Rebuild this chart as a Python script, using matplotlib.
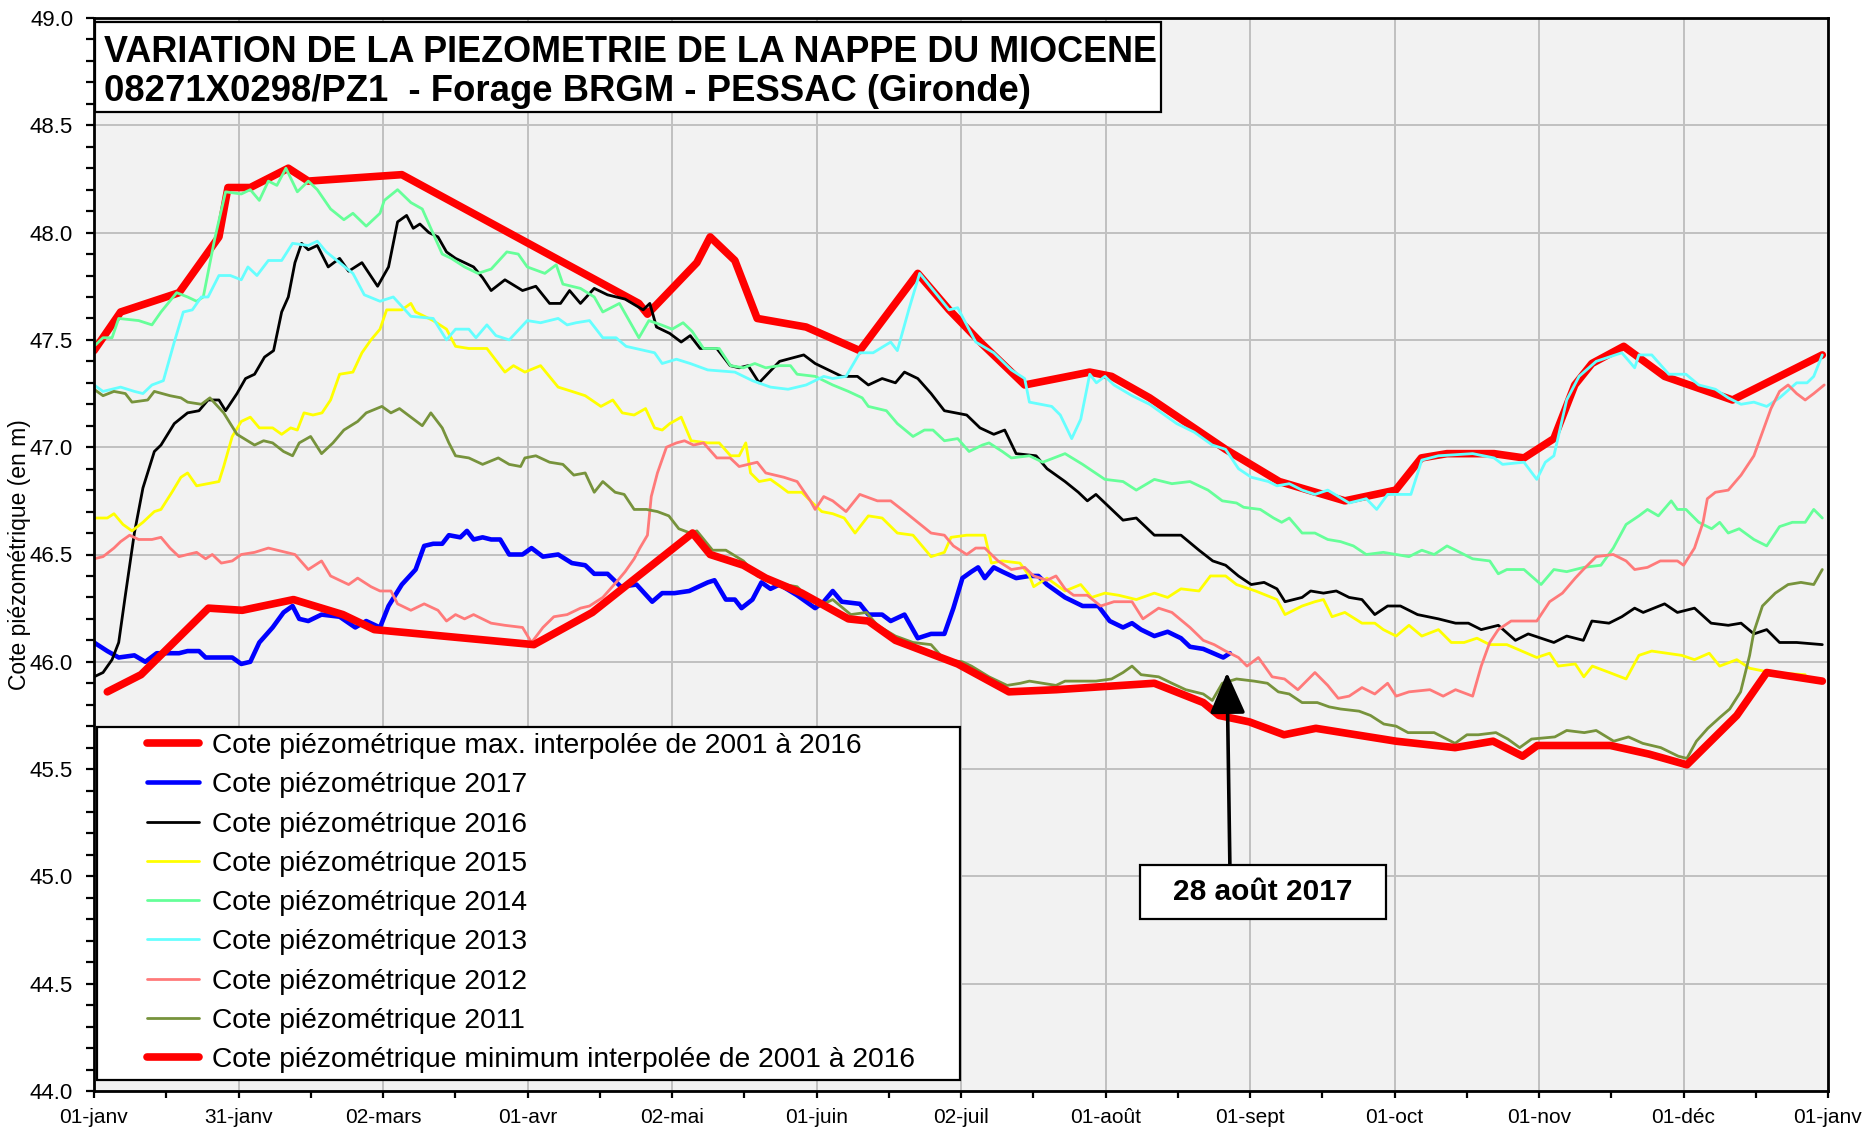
import numpy as np
import matplotlib
matplotlib.use("Agg")
import matplotlib.pyplot as plt
from matplotlib.patches import Rectangle
from matplotlib.ticker import MultipleLocator, FixedLocator

plt.rcParams['font.family'] = ['Liberation Sans', 'DejaVu Sans']

# ---------------- data (day of year, level in m) ----------------
max_days = [0, 5.6, 17.9, 26.3, 28.2, 32.9, 40.9, 45.1, 64.8, 114.7, 116.5, 126.9, 129.7, 134.9, 139.6,
            149.9, 161.2, 173.4, 180.0, 187.0, 195.9, 209.6, 214.2, 222.2, 238.2, 249.5, 263.3, 274.0,
            279.4, 284.8, 294.7, 301.0, 307.3, 311.7, 315.3, 322.0, 330.6, 344.9, 363.8]
max_vals = [47.45, 47.63, 47.72, 47.98, 48.21, 48.21, 48.30, 48.24, 48.27, 47.67, 47.62, 47.86, 47.98, 47.87,
            47.60, 47.56, 47.45, 47.81, 47.64, 47.48, 47.29, 47.35, 47.33, 47.23, 46.99, 46.84, 46.75, 46.80,
            46.95, 46.97, 46.97, 46.95, 47.04, 47.29, 47.39, 47.47, 47.33, 47.22, 47.43]

min_days = [2.8, 9.9, 24.1, 31.2, 42.0, 52.4, 59.0, 92.6, 104.9, 126.0, 129.7, 136.7, 141.4, 149.0, 158.8,
            163.0, 168.7, 181.8, 192.6, 202.5, 223.2, 233.5, 236.8, 243.2, 250.5, 257.2, 274.1, 286.5,
            294.5, 300.7, 303.8, 319.2, 327.3, 335.3, 345.8, 352.1, 363.8]
min_vals = [45.86, 45.94, 46.25, 46.24, 46.29, 46.22, 46.15, 46.08, 46.23, 46.60, 46.50, 46.45, 46.39, 46.32,
            46.20, 46.19, 46.10, 45.99, 45.86, 45.87, 45.90, 45.81, 45.75, 45.72, 45.66, 45.69, 45.63, 45.60,
            45.63, 45.56, 45.61, 45.61, 45.57, 45.52, 45.75, 45.95, 45.91]

y2017_days = [0, 2.8, 5.2, 8.5, 10.8, 13.2, 17.9, 19.7, 22.1, 23.5, 29.1, 31.0, 32.9, 34.8, 37.6, 39.9, 41.8,
              43.2, 45.1, 47.9, 51.7, 55.0, 57.3, 60.2, 62.0, 64.8, 67.7, 69.5, 71.4, 73.3, 74.7, 77.1, 78.5,
              79.9, 81.8, 83.6, 85.5, 87.4, 90.2, 92.1, 94.5, 97.7, 100.6, 103.4, 105.3, 108.1, 110.9, 114.2,
              117.5, 119.6, 122.2, 125.3, 129.2, 130.6, 133.0, 134.9, 136.3, 138.6, 140.5, 142.4, 144.3, 148.0,
              151.8, 153.6, 155.5, 157.4, 161.2, 163.0, 165.9, 167.7, 170.6, 173.4, 176.2, 179.0, 180.9, 182.8,
              184.7, 186.1, 187.5, 189.4, 191.2, 194.1, 196.9, 198.8, 200.6, 204.4, 208.1, 211.4, 213.8, 216.6,
              218.5, 220.4, 223.2, 226.0, 228.8, 230.7, 233.5, 237.7, 239.1]
y2017_vals = [46.09, 46.05, 46.02, 46.03, 46.00, 46.04, 46.04, 46.05, 46.05, 46.02, 46.02, 45.99, 46.00, 46.09,
              46.16, 46.23, 46.26, 46.20, 46.19, 46.22, 46.21, 46.16, 46.19, 46.16, 46.26, 46.36, 46.43, 46.54,
              46.55, 46.55, 46.59, 46.58, 46.61, 46.57, 46.58, 46.57, 46.57, 46.50, 46.50, 46.53, 46.49, 46.50,
              46.46, 46.45, 46.41, 46.41, 46.35, 46.36, 46.28, 46.32, 46.32, 46.33, 46.37, 46.38, 46.29, 46.29,
              46.25, 46.29, 46.37, 46.34, 46.36, 46.31, 46.25, 46.28, 46.33, 46.28, 46.27, 46.22, 46.22, 46.19,
              46.22, 46.11, 46.13, 46.13, 46.25, 46.39, 46.42, 46.44, 46.39, 46.44, 46.42, 46.39, 46.40, 46.40,
              46.36, 46.30, 46.26, 46.26, 46.19, 46.16, 46.18, 46.15, 46.12, 46.14, 46.11, 46.07, 46.06, 46.02,
              46.04]

y2016_days = [0, 1.9, 3.8, 5.2, 6.6, 8.5, 10.3, 12.7, 14.1, 16.9, 19.7, 22.1, 24.0, 26.3, 27.7, 30.1, 31.9,
              33.8, 35.9, 37.8, 39.5, 40.9, 42.3, 43.7, 45.1, 47.0, 49.3, 51.7, 53.6, 56.4, 59.7, 62.0, 63.9,
              65.8, 67.2, 68.6, 70.5, 72.4, 74.2, 76.1, 79.9, 81.8, 83.6, 86.5, 90.2, 93.0, 95.9, 98.2, 100.1,
              102.4, 105.3, 108.1, 111.8, 115.6, 117.0, 118.4, 121.2, 123.6, 125.5, 127.6, 131.1, 133.9, 135.8,
              137.7, 140.0, 144.3, 149.4, 151.8, 157.4, 160.7, 163.0, 165.9, 168.7, 170.6, 173.4, 176.2, 179.0,
              183.7, 186.5, 189.4, 191.7, 194.1, 198.3, 200.6, 204.4, 207.2, 209.1, 210.9, 214.7, 216.6, 219.4,
              223.2, 228.8, 232.6, 235.5, 238.2, 240.9, 243.6, 246.3, 249.0, 250.7, 254.3, 256.1, 258.8, 261.5,
              264.2, 266.9, 269.6, 272.3, 275.0, 278.6, 283.0, 286.6, 289.3, 292.0, 295.6, 299.2, 301.9, 307.3,
              310.0, 313.5, 315.3, 318.9, 321.6, 324.3, 326.1, 330.6, 333.3, 336.9, 340.4, 344.0, 346.7, 349.4,
              352.1, 354.8, 358.4, 363.8]
y2016_vals = [45.93, 45.95, 46.01, 46.09, 46.31, 46.60, 46.81, 46.98, 47.01, 47.11, 47.16, 47.17, 47.22, 47.22,
              47.17, 47.25, 47.32, 47.34, 47.42, 47.45, 47.63, 47.70, 47.86, 47.95, 47.92, 47.94, 47.84, 47.88,
              47.82, 47.86, 47.75, 47.84, 48.05, 48.08, 48.02, 48.04, 48.00, 47.98, 47.91, 47.88, 47.84, 47.79,
              47.73, 47.78, 47.73, 47.75, 47.67, 47.67, 47.73, 47.67, 47.74, 47.71, 47.69, 47.64, 47.67, 47.56,
              47.53, 47.49, 47.52, 47.46, 47.46, 47.38, 47.37, 47.38, 47.30, 47.40, 47.43, 47.39, 47.33, 47.33,
              47.29, 47.32, 47.30, 47.35, 47.32, 47.25, 47.17, 47.15, 47.09, 47.06, 47.08, 46.97, 46.96, 46.90,
              46.84, 46.79, 46.75, 46.78, 46.70, 46.66, 46.67, 46.59, 46.59, 46.52, 46.47, 46.45, 46.40, 46.36,
              46.37, 46.34, 46.28, 46.30, 46.33, 46.32, 46.33, 46.30, 46.29, 46.22, 46.26, 46.26, 46.22, 46.20,
              46.18, 46.18, 46.15, 46.17, 46.10, 46.13, 46.09, 46.12, 46.10, 46.19, 46.18, 46.21, 46.25, 46.23,
              46.27, 46.23, 46.25, 46.18, 46.17, 46.18, 46.13, 46.15, 46.09, 46.09, 46.08]

y2015_days = [0, 2.8, 4.2, 6.1, 8.0, 10.3, 12.7, 14.1, 16.4, 18.3, 19.7, 21.6, 24.0, 26.3, 27.3, 29.1, 31.0,
              32.9, 34.8, 37.6, 39.5, 41.4, 42.8, 44.2, 46.1, 48.0, 49.8, 51.7, 54.5, 56.4, 58.3, 60.2, 61.6,
              64.8, 66.7, 67.7, 71.4, 74.2, 76.1, 78.9, 82.7, 86.5, 88.3, 90.7, 94.0, 97.7, 100.6, 103.4, 106.7,
              109.2, 111.2, 113.7, 116.1, 118.0, 119.6, 121.2, 123.6, 125.7, 129.2, 131.6, 134.0, 135.8, 137.2,
              138.2, 140.0, 142.4, 144.3, 146.1, 149.0, 150.8, 153.2, 155.5, 157.9, 160.2, 163.0, 165.9, 169.1,
              172.4, 176.2, 179.0, 180.4, 183.7, 187.5, 188.9, 191.2, 194.9, 196.9, 197.8, 200.6, 204.4, 207.7,
              210.0, 212.8, 215.7, 219.4, 223.2, 226.0, 228.8, 232.6, 235.0, 238.2, 240.5, 244.5, 249.0, 250.7,
              254.3, 257.0, 258.8, 260.6, 263.3, 266.9, 269.6, 271.4, 274.1, 276.8, 279.5, 283.0, 285.7, 288.4,
              291.1, 293.8, 297.4, 303.7, 306.4, 308.2, 311.8, 313.6, 315.4, 319.0, 322.5, 325.2, 327.9, 334.2,
              336.9, 340.0, 342.2, 345.8, 348.5, 353.0, 360.2]
y2015_vals = [46.67, 46.67, 46.69, 46.64, 46.61, 46.65, 46.70, 46.71, 46.79, 46.86, 46.88, 46.82, 46.83, 46.84,
              46.91, 47.05, 47.12, 47.14, 47.09, 47.09, 47.06, 47.09, 47.08, 47.16, 47.15, 47.16, 47.22, 47.34,
              47.35, 47.44, 47.50, 47.55, 47.64, 47.64, 47.67, 47.63, 47.59, 47.55, 47.47, 47.46, 47.46, 47.35,
              47.38, 47.35, 47.38, 47.28, 47.26, 47.24, 47.19, 47.22, 47.16, 47.15, 47.18, 47.09, 47.08, 47.11,
              47.14, 47.03, 47.02, 47.02, 46.96, 46.96, 47.02, 46.88, 46.84, 46.85, 46.82, 46.79, 46.79, 46.75,
              46.70, 46.69, 46.67, 46.60, 46.68, 46.67, 46.60, 46.59, 46.49, 46.51, 46.58, 46.59, 46.59, 46.46,
              46.47, 46.46, 46.40, 46.35, 46.39, 46.33, 46.36, 46.30, 46.32, 46.31, 46.29, 46.32, 46.30, 46.34,
              46.33, 46.40, 46.40, 46.36, 46.33, 46.29, 46.22, 46.26, 46.28, 46.29, 46.21, 46.23, 46.18, 46.18,
              46.15, 46.12, 46.17, 46.12, 46.15, 46.09, 46.09, 46.11, 46.08, 46.08, 46.02, 46.04, 45.98, 45.99,
              45.93, 45.98, 45.95, 45.92, 46.03, 46.05, 46.03, 46.01, 46.04, 45.98, 46.01, 45.97, 45.95, 45.94]

y2014_days = [0, 1.9, 3.8, 5.2, 9.4, 12.2, 14.1, 17.4, 19.7, 21.6, 23.0, 25.4, 27.7, 31.0, 32.9, 34.8, 36.7,
              38.5, 40.4, 42.8, 45.1, 47.0, 49.8, 52.6, 54.5, 57.3, 60.2, 61.1, 63.9, 66.7, 69.1, 73.3, 75.2,
              78.0, 80.8, 83.6, 86.9, 89.3, 91.2, 94.9, 97.3, 98.7, 102.4, 105.3, 107.1, 110.6, 114.7, 116.8,
              119.4, 121.7, 124.0, 125.9, 128.3, 131.6, 134.0, 136.7, 139.1, 141.4, 144.3, 146.6, 148.0, 151.8,
              155.5, 158.8, 161.7, 163.0, 166.8, 169.1, 172.4, 174.8, 176.6, 179.0, 181.8, 184.2, 187.0, 188.4,
              191.2, 193.1, 196.9, 199.7, 204.4, 208.1, 212.8, 216.6, 219.4, 223.2, 226.9, 230.7, 234.5, 237.5,
              240.5, 242.0, 245.5, 248.3, 250.0, 251.6, 254.3, 257.0, 259.7, 262.4, 265.1, 267.8, 271.4, 274.1,
              276.8, 279.5, 282.1, 284.8, 287.5, 290.2, 293.8, 295.6, 297.4, 301.0, 304.6, 307.3, 310.0, 313.6,
              317.2, 319.8, 322.5, 325.2, 327.0, 329.3, 332.0, 333.3, 335.1, 337.8, 340.5, 342.2, 344.0, 346.3,
              349.4, 352.1, 354.8, 357.5, 360.2, 362.0, 363.8]
y2014_vals = [47.47, 47.51, 47.51, 47.60, 47.59, 47.57, 47.63, 47.72, 47.70, 47.68, 47.70, 47.97, 48.19, 48.18,
              48.20, 48.15, 48.24, 48.22, 48.30, 48.19, 48.24, 48.20, 48.11, 48.06, 48.09, 48.03, 48.09, 48.15,
              48.20, 48.14, 48.11, 47.90, 47.88, 47.84, 47.81, 47.83, 47.91, 47.90, 47.84, 47.81, 47.85, 47.76,
              47.74, 47.70, 47.63, 47.67, 47.51, 47.59, 47.57, 47.55, 47.58, 47.54, 47.46, 47.46, 47.38, 47.37,
              47.39, 47.37, 47.38, 47.38, 47.34, 47.33, 47.29, 47.26, 47.23, 47.19, 47.17, 47.11, 47.05, 47.08,
              47.08, 47.03, 47.04, 46.98, 47.01, 47.02, 46.98, 46.95, 46.96, 46.93, 46.97, 46.92, 46.85, 46.84,
              46.80, 46.85, 46.83, 46.84, 46.80, 46.75, 46.74, 46.72, 46.71, 46.67, 46.65, 46.67, 46.60, 46.60,
              46.57, 46.56, 46.54, 46.50, 46.51, 46.50, 46.49, 46.52, 46.50, 46.54, 46.51, 46.48, 46.47, 46.41,
              46.43, 46.43, 46.36, 46.43, 46.42, 46.44, 46.45, 46.53, 46.64, 46.68, 46.71, 46.68, 46.75, 46.71,
              46.71, 46.65, 46.62, 46.65, 46.60, 46.62, 46.57, 46.54, 46.63, 46.65, 46.65, 46.71, 46.67]

y2013_days = [0, 1.9, 5.6, 8.5, 10.3, 12.2, 14.6, 16.9, 18.8, 20.7, 22.6, 24.0, 26.3, 28.7, 31.0, 32.4, 34.3,
              36.7, 39.5, 41.8, 45.1, 47.0, 48.9, 51.7, 54.5, 56.9, 60.2, 63.0, 66.7, 71.4, 74.2, 76.1, 78.9,
              80.4, 82.7, 84.6, 87.4, 91.2, 94.0, 97.7, 99.6, 101.5, 104.3, 107.1, 109.9, 112.0, 116.0, 118.0,
              119.6, 122.6, 125.5, 129.2, 134.9, 138.6, 142.4, 146.1, 149.9, 153.6, 155.5, 158.3, 161.2, 164.0,
              167.7, 169.1, 171.5, 173.8, 180.0, 181.8, 185.6, 189.4, 193.1, 195.9, 196.9, 201.6, 203.4, 205.8,
              207.7, 209.6, 211.0, 212.8, 214.7, 218.5, 222.2, 227.9, 231.6, 235.4, 238.2, 240.9, 243.6, 247.2,
              249.0, 251.6, 254.3, 257.0, 259.7, 264.2, 267.8, 270.0, 272.3, 277.2, 279.5, 283.0, 290.2, 294.7,
              296.5, 301.0, 303.7, 305.5, 307.3, 310.0, 312.6, 316.2, 321.6, 324.3, 325.2, 327.9, 331.5, 335.1,
              337.8, 341.3, 344.0, 346.7, 349.4, 352.1, 354.8, 358.4, 360.6, 362.0, 363.8]
y2013_vals = [47.29, 47.26, 47.28, 47.26, 47.25, 47.29, 47.31, 47.49, 47.63, 47.64, 47.70, 47.70, 47.80, 47.80,
              47.78, 47.84, 47.80, 47.87, 47.87, 47.95, 47.94, 47.96, 47.91, 47.86, 47.81, 47.71, 47.68, 47.70,
              47.61, 47.60, 47.50, 47.55, 47.55, 47.51, 47.57, 47.52, 47.50, 47.59, 47.58, 47.60, 47.57, 47.58,
              47.59, 47.51, 47.51, 47.47, 47.45, 47.44, 47.39, 47.41, 47.39, 47.36, 47.35, 47.31, 47.28, 47.27,
              47.29, 47.33, 47.32, 47.33, 47.44, 47.44, 47.49, 47.45, 47.64, 47.81, 47.64, 47.65, 47.49, 47.44,
              47.36, 47.32, 47.21, 47.19, 47.15, 47.04, 47.13, 47.34, 47.30, 47.33, 47.29, 47.24, 47.20, 47.11,
              47.07, 47.01, 46.99, 46.90, 46.86, 46.84, 46.82, 46.83, 46.80, 46.78, 46.80, 46.74, 46.76, 46.71,
              46.78, 46.78, 46.94, 46.96, 46.97, 46.95, 46.92, 46.93, 46.85, 46.93, 46.96, 47.22, 47.33, 47.40,
              47.44, 47.37, 47.43, 47.43, 47.34, 47.34, 47.29, 47.27, 47.23, 47.20, 47.21, 47.19, 47.23, 47.30,
              47.30, 47.33, 47.43]

y2012_days = [0, 1.9, 4.2, 5.6, 7.5, 9.4, 12.2, 14.1, 16.0, 17.9, 19.7, 21.6, 23.5, 24.9, 26.8, 29.1, 31.0,
              33.8, 36.7, 40.4, 42.3, 45.1, 47.9, 49.8, 51.7, 53.6, 55.5, 58.3, 60.2, 62.5, 63.9, 66.7, 69.5,
              72.4, 74.2, 76.1, 78.0, 79.9, 83.6, 86.5, 90.2, 92.1, 94.5, 96.8, 99.6, 102.4, 104.3, 107.1, 109.9,
              111.8, 113.7, 114.9, 116.5, 117.3, 118.6, 120.5, 122.6, 124.3, 126.2, 128.3, 131.1, 133.9, 135.8,
              139.6, 141.4, 145.2, 148.0, 150.8, 151.8, 153.6, 155.5, 158.3, 161.2, 164.9, 167.7, 170.6, 173.4,
              176.2, 179.0, 180.9, 183.7, 185.6, 187.5, 190.3, 193.1, 195.9, 197.8, 200.6, 202.5, 204.4, 206.2,
              209.1, 211.9, 214.7, 218.5, 220.8, 224.1, 226.9, 230.7, 233.5, 235.8, 238.2, 240.9, 242.7, 245.1,
              248.0, 250.6, 253.4, 257.0, 259.7, 261.9, 264.2, 266.9, 269.6, 272.3, 274.1, 276.8, 281.2, 284.0,
              286.6, 290.2, 292.0, 293.8, 295.6, 298.3, 301.0, 303.7, 306.4, 309.1, 311.8, 313.5, 316.2, 319.8,
              322.5, 324.3, 327.0, 329.7, 333.3, 334.6, 336.9, 338.7, 339.6, 341.3, 344.0, 346.7, 349.4, 351.2,
              353.0, 354.8, 356.6, 358.4, 360.2, 362.0, 364.2]
y2012_vals = [46.48, 46.49, 46.53, 46.56, 46.59, 46.57, 46.57, 46.58, 46.53, 46.49, 46.50, 46.51, 46.48, 46.50,
              46.46, 46.47, 46.50, 46.51, 46.53, 46.51, 46.50, 46.43, 46.47, 46.40, 46.38, 46.36, 46.39, 46.35,
              46.33, 46.33, 46.27, 46.24, 46.27, 46.24, 46.19, 46.22, 46.20, 46.22, 46.18, 46.17, 46.16, 46.09,
              46.16, 46.21, 46.22, 46.25, 46.26, 46.30, 46.37, 46.42, 46.48, 46.53, 46.59, 46.77, 46.88, 47.00,
              47.02, 47.03, 47.01, 47.02, 46.95, 46.95, 46.91, 46.93, 46.88, 46.86, 46.84, 46.75, 46.71, 46.77,
              46.75, 46.70, 46.78, 46.75, 46.75, 46.70, 46.65, 46.60, 46.59, 46.54, 46.50, 46.53, 46.53, 46.47,
              46.43, 46.44, 46.40, 46.38, 46.40, 46.34, 46.31, 46.31, 46.26, 46.28, 46.28, 46.20, 46.25, 46.23,
              46.16, 46.10, 46.08, 46.05, 46.02, 45.98, 46.02, 45.93, 45.92, 45.87, 45.95, 45.89, 45.83, 45.84,
              45.88, 45.85, 45.90, 45.84, 45.86, 45.87, 45.84, 45.87, 45.84, 45.98, 46.09, 46.15, 46.19, 46.19,
              46.19, 46.28, 46.32, 46.39, 46.43, 46.49, 46.50, 46.47, 46.43, 46.44, 46.47, 46.47, 46.45, 46.53,
              46.65, 46.76, 46.79, 46.80, 46.87, 46.96, 47.07, 47.18, 47.26, 47.29, 47.25, 47.22, 47.25, 47.29]

y2011_days = [0, 1.9, 4.2, 6.6, 8.0, 11.3, 12.7, 16.0, 18.3, 19.7, 22.6, 24.4, 27.3, 30.1, 33.8, 35.7, 37.6,
              39.9, 41.8, 43.2, 45.6, 47.9, 50.3, 52.6, 55.5, 57.3, 60.6, 62.5, 64.3, 66.7, 69.1, 70.9, 73.3,
              74.7, 76.1, 78.9, 81.8, 85.1, 87.4, 89.8, 90.7, 93.0, 95.9, 98.7, 101.0, 103.4, 105.3, 107.1, 109.7,
              111.6, 113.7, 116.3, 118.6, 121.0, 123.1, 125.5, 126.9, 130.2, 133.0, 136.7, 139.6, 143.3, 145.2,
              148.0, 149.9, 152.7, 155.5, 159.3, 162.6, 164.9, 168.7, 172.4, 176.2, 179.0, 182.8, 184.7, 188.4,
              192.2, 195.0, 196.9, 199.7, 202.5, 204.4, 206.2, 210.9, 214.2, 216.6, 218.5, 220.4, 224.1, 226.9,
              229.8, 233.5, 235.4, 237.5, 240.5, 244.2, 247.0, 249.3, 251.6, 254.3, 257.5, 260.0, 262.4, 266.3,
              268.7, 271.5, 274.1, 276.6, 280.3, 282.1, 286.5, 289.0, 291.4, 295.1, 297.6, 300.1, 302.6, 307.5,
              310.0, 313.7, 316.2, 319.9, 323.0, 326.0, 329.8, 333.5, 335.3, 337.3, 339.7, 342.2, 344.3, 346.6,
              348.5, 349.4, 351.2, 353.9, 356.6, 359.3, 362.0, 363.8]
y2011_vals = [47.27, 47.24, 47.26, 47.25, 47.21, 47.22, 47.26, 47.24, 47.23, 47.21, 47.20, 47.23, 47.16, 47.06,
              47.01, 47.03, 47.02, 46.98, 46.96, 47.02, 47.05, 46.97, 47.02, 47.08, 47.12, 47.16, 47.19, 47.16,
              47.18, 47.14, 47.10, 47.16, 47.09, 47.02, 46.96, 46.95, 46.92, 46.95, 46.92, 46.91, 46.95, 46.96,
              46.93, 46.92, 46.87, 46.88, 46.79, 46.84, 46.79, 46.78, 46.71, 46.71, 46.70, 46.68, 46.62, 46.60,
              46.61, 46.52, 46.52, 46.47, 46.40, 46.37, 46.36, 46.35, 46.31, 46.26, 46.29, 46.22, 46.23, 46.17,
              46.12, 46.09, 46.08, 46.01, 46.00, 45.98, 45.93, 45.89, 45.90, 45.91, 45.90, 45.89, 45.91, 45.91,
              45.91, 45.92, 45.95, 45.98, 45.94, 45.93, 45.90, 45.87, 45.85, 45.82, 45.90, 45.92, 45.91, 45.90,
              45.86, 45.85, 45.81, 45.81, 45.79, 45.78, 45.77, 45.75, 45.71, 45.70, 45.67, 45.67, 45.67, 45.62,
              45.66, 45.66, 45.67, 45.64, 45.60, 45.64, 45.65, 45.68, 45.67, 45.68, 45.63, 45.65, 45.62, 45.60,
              45.56, 45.55, 45.63, 45.69, 45.74, 45.78, 45.86, 46.03, 46.14, 46.26, 46.32, 46.36, 46.37, 46.36,
              46.43]

xtick_labels = ['01-janv', '31-janv', '02-mars', '01-avr', '02-mai', '01-juin', '02-juil',
                '01-août', '01-sept', '01-oct', '01-nov', '01-déc', '01-janv']

labels = ['Cote piézométrique max. interpolée de 2001 à 2016',
          'Cote piézométrique 2017',
          'Cote piézométrique 2016',
          'Cote piézométrique 2015',
          'Cote piézométrique 2014',
          'Cote piézométrique 2013',
          'Cote piézométrique 2012',
          'Cote piézométrique 2011',
          'Cote piézométrique minimum interpolée de 2001 à 2016']

series = [(max_days, max_vals), (y2017_days, y2017_vals), (y2016_days, y2016_vals),
          (y2015_days, y2015_vals), (y2014_days, y2014_vals), (y2013_days, y2013_vals),
          (y2012_days, y2012_vals), (y2011_days, y2011_vals), (min_days, min_vals)]
colors = ['#FF0000', '#0000FF', '#000000', '#FFFF00', '#66FF99', '#66FFFF', '#FF7A7A', '#77933C', '#FF0000']
widths = [5.5, 3.3, 2.0, 2.0, 2.0, 2.0, 2.0, 2.0, 5.5]

# ---------------- figure ----------------
fig = plt.figure(figsize=(18.70, 11.31), dpi=100)
ax = fig.add_axes([94 / 1870, 40 / 1131, 1734 / 1870, 1073 / 1131])
ax.set_facecolor('#F2F2F2')

handles = []
for i, ((d, v), c, w, lab) in enumerate(zip(series, colors, widths, labels)):
    ln, = ax.plot(d, v, color=c, lw=w, label=lab, zorder=3 + i,
                  solid_joinstyle='round', solid_capstyle='round')
    handles.append(ln)

ax.set_xlim(0, 365)
ax.set_ylim(44.0, 49.0)
ax.xaxis.set_major_locator(FixedLocator(np.linspace(0, 365, 13)))
ax.xaxis.set_minor_locator(FixedLocator(np.linspace(0, 365, 25)))
ax.set_xticklabels(xtick_labels)
ax.yaxis.set_major_locator(MultipleLocator(0.5))
ax.yaxis.set_minor_locator(MultipleLocator(0.1))
ax.yaxis.set_major_formatter(matplotlib.ticker.FormatStrFormatter('%.1f'))

ax.grid(True, which='major', color='#C0C0C0', lw=1.4, zorder=0)
ax.set_axisbelow(True)
for s in ax.spines.values():
    s.set_color('black')
    s.set_linewidth(2.0)
    s.set_zorder(20)

ax.tick_params(axis='x', which='both', direction='out', length=5, width=1.6, labelsize=15, pad=7)
ax.tick_params(axis='y', which='both', direction='out', length=6, width=1.6, labelsize=16, pad=9)

ax.set_ylabel('Cote piézométrique (en m)', fontsize=16.5, va='center')
ax.yaxis.set_label_coords((20 - 94) / 1734, 0.5)

# ---------------- title box ----------------
def fx(px):
    return (px - 94) / 1734

def fy(py):
    return 1 - (py - 18) / 1073

ax.add_patch(Rectangle((fx(95), fy(112)), fx(1161) - fx(95), fy(22) - fy(112),
                       transform=ax.transAxes, facecolor='white', edgecolor='black', lw=1.6, zorder=30))
ax.text(fx(104), fy(62), 'VARIATION DE LA PIEZOMETRIE DE LA NAPPE DU MIOCENE', transform=ax.transAxes,
        fontsize=25.9, fontweight='bold', ha='left', va='baseline', zorder=31)
ax.text(fx(104), fy(101), '08271X0298/PZ1  - Forage BRGM - PESSAC (Gironde)', transform=ax.transAxes,
        fontsize=26.3, fontweight='bold', ha='left', va='baseline', zorder=31)

# ---------------- legend ----------------
ax.add_patch(Rectangle((fx(97), fy(1080)), fx(960) - fx(97), fy(727) - fy(1080),
                       transform=ax.transAxes, facecolor='white', edgecolor='black', lw=1.6, zorder=30))
leg = ax.legend(handles=handles, loc='upper left', bbox_to_anchor=(fx(147), fy(733)),
                frameon=False, fontsize=20.3, borderpad=0, borderaxespad=0,
                handlelength=1.85, handletextpad=0.45, labelspacing=0.47)
leg.set_zorder(31)

# ---------------- annotation ----------------
ann_day, ann_level = 238.5, 45.95
ax.annotate('', xy=(ann_day, ann_level), xytext=(239.1, 45.05),
            arrowprops=dict(arrowstyle='-|>,head_length=1.15,head_width=0.5', color='black', lw=2.6,
                            mutation_scale=22, shrinkA=0, shrinkB=0), zorder=32)
ax.add_patch(Rectangle((fx(1140), fy(919)), fx(1386) - fx(1140), fy(865) - fy(919),
                       transform=ax.transAxes, facecolor='white', edgecolor='black', lw=1.6, zorder=33))
ax.text((fx(1140) + fx(1386)) / 2, (fy(919) + fy(865)) / 2, '28 août 2017', transform=ax.transAxes,
        fontsize=21.5, fontweight='bold', ha='center', va='center', zorder=34)

fig.savefig('out.png', dpi=100)
